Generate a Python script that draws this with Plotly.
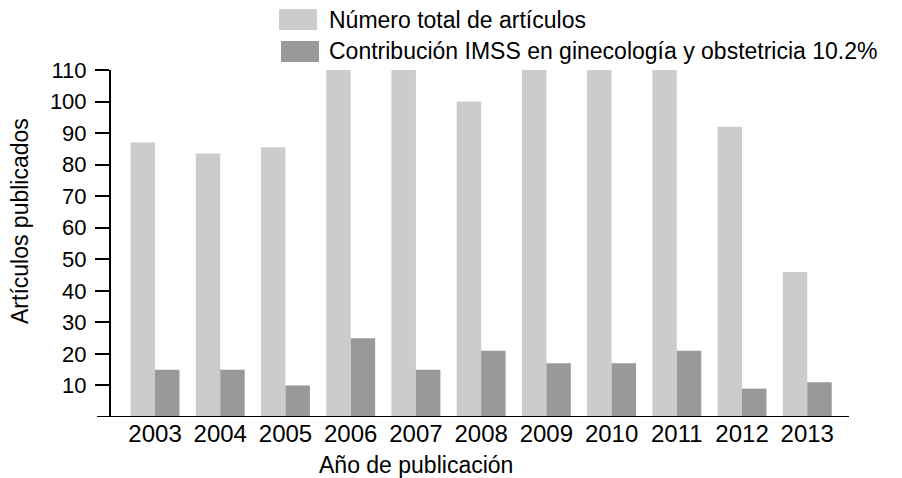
import plotly.graph_objects as go

years = [2003, 2004, 2005, 2006, 2007, 2008, 2009, 2010, 2011, 2012, 2013]
year_labels = [str(y) for y in years]
total_articulos = [87, 83.5, 85.5, 110, 110, 100, 110, 110, 110, 92, 46]
contribucion_imss = [15, 15, 10, 25, 15, 21, 17, 17, 21, 9, 11]
series_names = ["Número total de artículos",
                "Contribución IMSS en ginecología y obstetricia 10.2%"]
series_colors = ["#cccccc", "#999999"]
y_ticks = [10, 20, 30, 40, 50, 60, 70, 80, 90, 100, 110]
x_title = "Año de publicación"
y_title = "Artículos publicados"

# window is 902x478, the page body has an 8px margin
O = 8
W, H = 902 - O, 478 - O
# plot area in window pixels: x 111..849, y 70..417
PL, PR, PT, PB = 111, 849, 70, 417
L, R, T, B = PL - O, 902 - PR, PT - O, 478 - PB
pw, ph = PR - PL, PB - PT

def px(x):
    return (x - PL) / pw

def py(y):
    return (PB - y) / ph

FONT = "Liberation Sans, Arial, Helvetica, sans-serif"

fig = go.Figure()
for name, vals, col in zip(series_names, [total_articulos, contribucion_imss], series_colors):
    fig.add_trace(go.Bar(x=years, y=vals, name=name, marker=dict(color=col, line=dict(width=0)),
                         showlegend=False))

fig.update_layout(
    width=W, height=H,
    margin=dict(l=L, r=R, t=T, b=B, pad=0),
    paper_bgcolor="white", plot_bgcolor="white",
    barmode="group", bargap=0.25, bargroupgap=0,
    font=dict(family=FONT, size=23, color="black"),
    xaxis=dict(range=[2002.325, 2013.64], tickvals=years, ticktext=year_labels,
               showgrid=False, zeroline=False, showline=False, ticks="",
               tickfont=dict(size=24)),
    yaxis=dict(range=[0, 110], tickvals=y_ticks, showgrid=False, zeroline=False,
               showline=True, linecolor="black", linewidth=2,
               ticks="outside", ticklen=14, tickwidth=2, tickcolor="black",
               ticklabelstandoff=4,
               tickfont=dict(size=22)),
    showlegend=False,
)

# x axis baseline extending under the y ticks
fig.add_shape(type="line", xref="paper", yref="y", x0=px(97), x1=1, y0=0, y1=0,
              line=dict(color="black", width=2))

# manual legend
sw = [(279, 9, 317, 30), (281, 41, 319, 62)]
ty = [20, 51]
for (x0, y0, x1, y1), name, col, yy in zip(sw, series_names, series_colors, ty):
    fig.add_shape(type="rect", xref="paper", yref="paper",
                  x0=px(x0), x1=px(x1), y0=py(y1), y1=py(y0),
                  fillcolor=col, line=dict(width=0))
    fig.add_annotation(text=name, xref="paper", yref="paper", x=px(327), y=py(yy),
                       xanchor="left", yanchor="middle", showarrow=False,
                       font=dict(size=23))

fig.add_annotation(text=x_title, xref="paper", yref="paper", x=px(416), y=py(465),
                   xanchor="center", yanchor="middle", showarrow=False, font=dict(size=23))
fig.add_annotation(text=y_title, xref="paper", yref="paper", x=px(20), y=py(221),
                   xanchor="center", yanchor="middle", textangle=-90, showarrow=False,
                   font=dict(size=23))

fig.write_html("out.html")
